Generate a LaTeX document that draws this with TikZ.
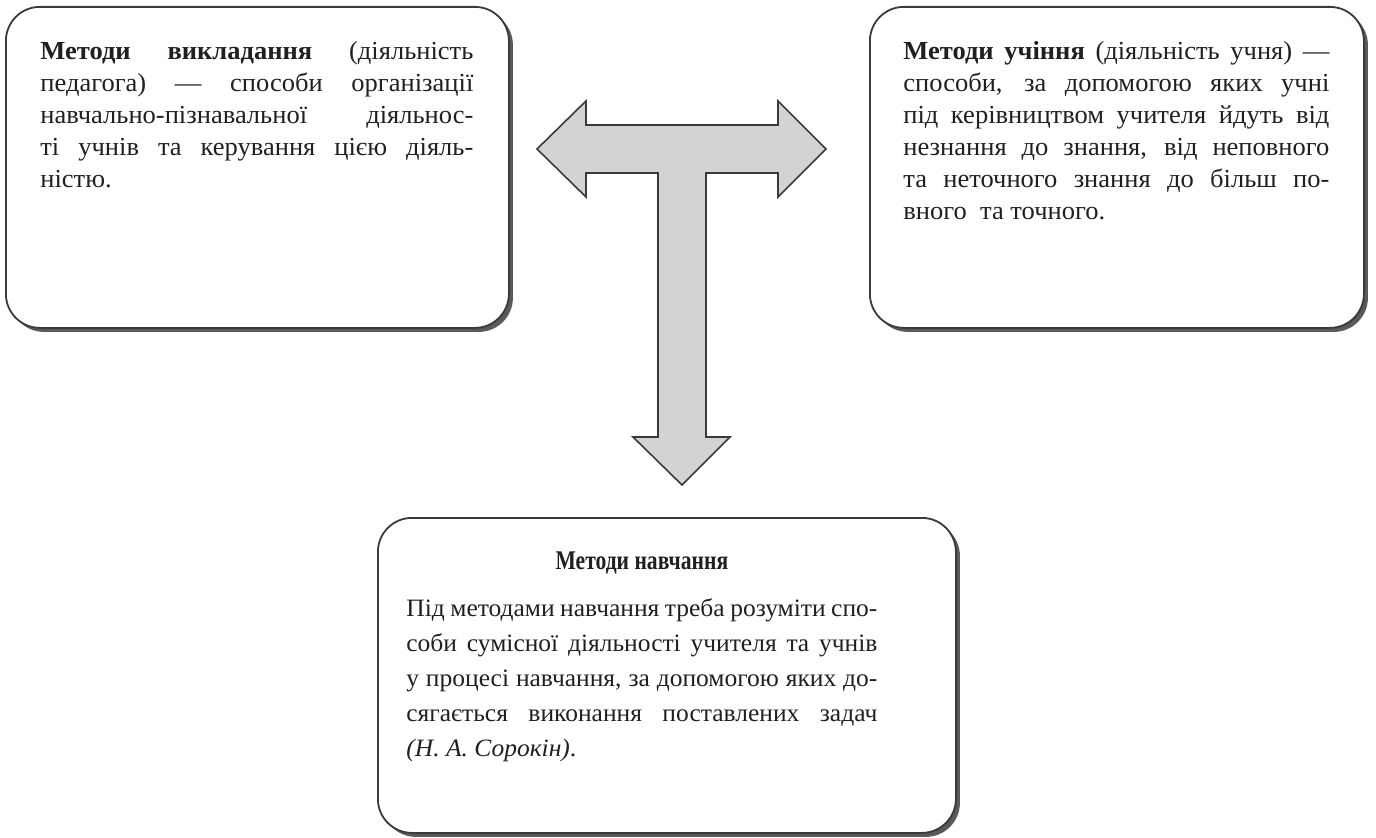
\documentclass[tikz,border=0pt]{standalone}
\usepackage{fontspec}
\setmainfont{Liberation Serif}[FakeStretch=1.02]
\newfontfamily\headfont{Liberation Serif}[FakeStretch=0.8]
\usepackage{tikz}
\usetikzlibrary{positioning,shadows}
\definecolor{ink}{HTML}{231F20}
\definecolor{frame}{HTML}{3A3A3A}
\definecolor{arrowfill}{HTML}{D1D3D4}
\definecolor{shade}{HTML}{5A5A5C}
\newcommand{\jline}[1]{\hbox to\linewidth{#1}\par}
\tikzset{
  card/.style={draw=frame, line width=0.9pt, fill=white, rounded corners=17pt, inner sep=0pt,
    anchor=north west,
    drop shadow={shadow xshift=2pt, shadow yshift=-2pt, fill=shade, opacity=1}},
  body/.style={text=ink, inner sep=0pt, align=justify, font=\fontsize{13}{16}\selectfont},
  bigarrow/.style={draw=frame, line width=0.8pt, fill=arrowfill, line join=miter}
}

\begin{document}
\begin{tikzpicture}[x=0.5pt, y=0.5pt]
  \useasboundingbox (0,0) rectangle (1376,837);

  % three cards
  \node[card, minimum width=251.5pt, minimum height=160.5pt] (vykl) at (5,831) {};
  \node[card, minimum width=247pt, minimum height=160.5pt] (uchin) at (869,831) {};
  \node[card, minimum width=289pt, minimum height=157.5pt] (navch) at (377,320) {};

  \node[body, text width=216.5pt, below right=17.5pt and 17.5pt of vykl.north west] (vykltxt)
    {\jline{\textbf{Методи викладання} (діяльність}
     \jline{педагога) — способи організації}
     \jline{навчально-пізнавальної діяльнос-}
     \jline{ті учнів та керування цією діяль-}
     ністю.};

  \node[body, text width=213pt, below right=17.5pt and 17pt of uchin.north west] (uchintxt)
    {\jline{\textbf{Методи учіння} (діяльність учня) —}
     \jline{способи, за допомогою яких учні}
     \jline{під керівництвом учителя йдуть від}
     \jline{незнання до знання, від неповного}
     \jline{та неточного знання до більш по-}
     вного \ та точного.};

  \node[body, text width=235.5pt, font=\fontsize{12.5}{17.5}\selectfont,
        below right=17pt and 14.5pt of navch.north west] (navchtxt)
    {\jline{\hfil\headfont\fontsize{13.5}{14}\selectfont\bfseries Методи навчання\hfil}
     \vspace{6pt}
     \jline{Під методами навчання треба розуміти спо-}
     \jline{соби сумісної діяльності учителя та учнів}
     \jline{у процесі навчання, за допомогою яких до-}
     \jline{сягається виконання поставлених задач}
     \textit{(Н. А. Сорокін)}.};

  % T-shaped arrow
  \draw[bigarrow] (537,688) -- (586,736) -- (586,712) -- (778,712) -- (778,736)
    -- (826,688) -- (778,640) -- (778,664) -- (706,664) -- (706,400) -- (730,400)
    -- (682,352) -- (633,400) -- (658,400) -- (658,664) -- (586,664) -- (586,640) -- cycle;
\end{tikzpicture}
\end{document}
